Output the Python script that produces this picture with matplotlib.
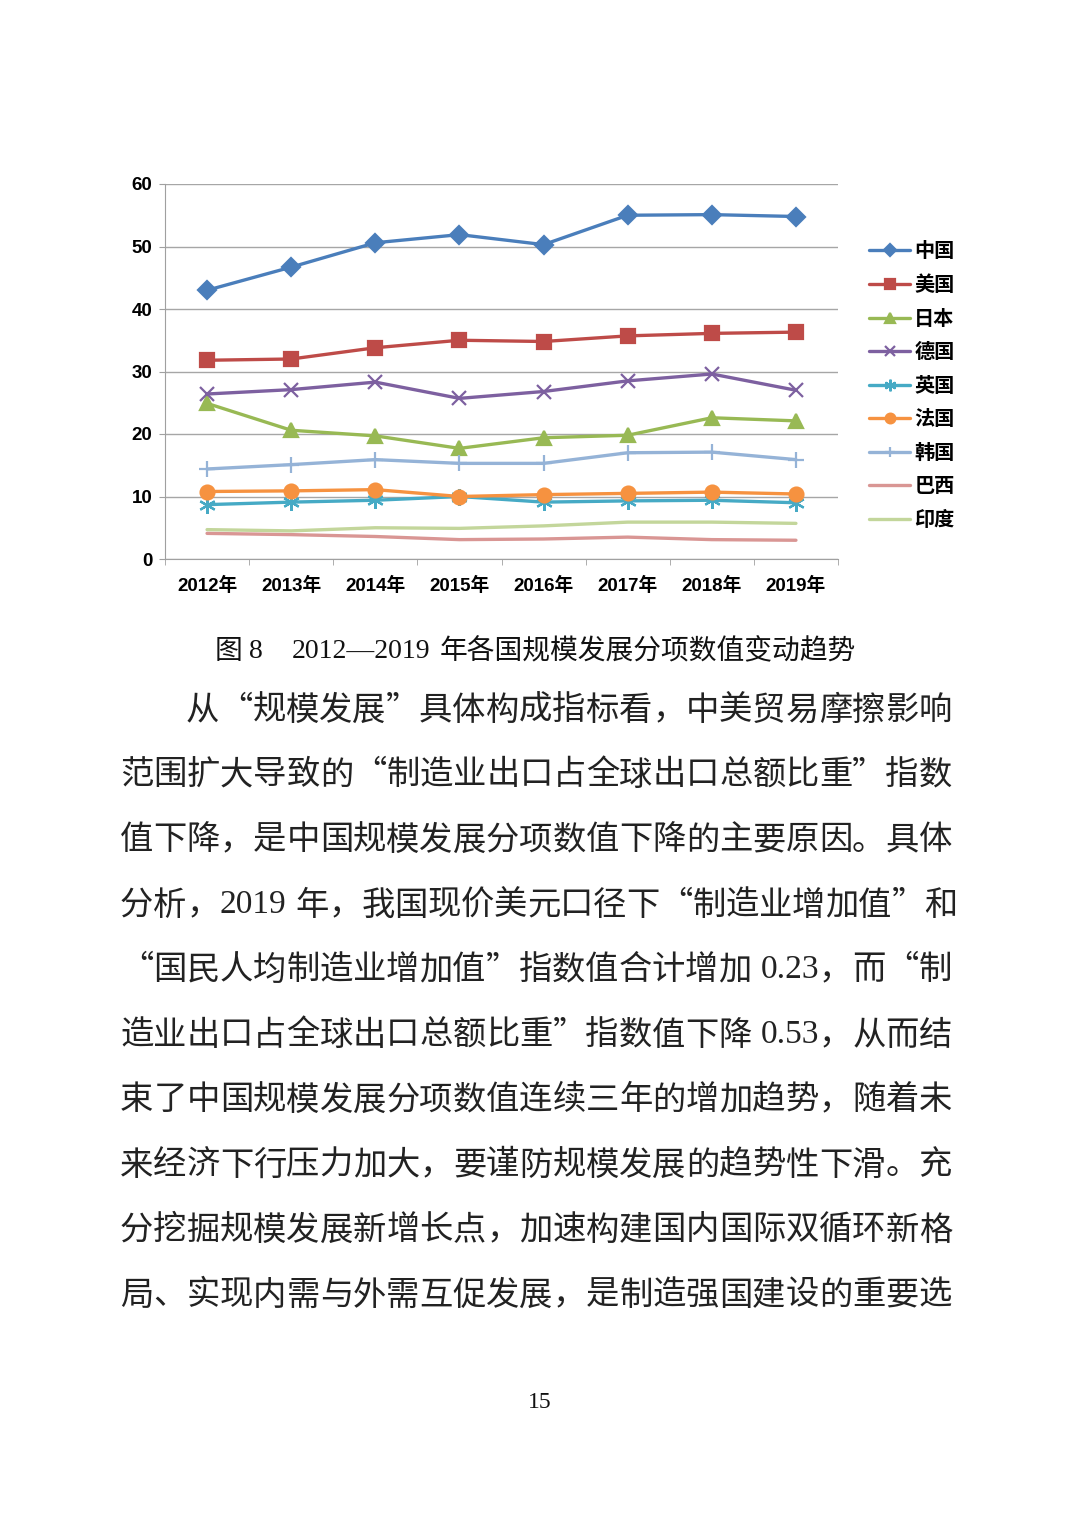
import matplotlib
matplotlib.use('Agg')
import matplotlib.pyplot as plt
import numpy as np

# data
years = ['2012年', '2013年', '2014年', '2015年', '2016年', '2017年', '2018年', '2019年']
countries = ['中国', '美国', '日本', '德国', '英国', '法国', '韩国', '巴西', '印度']
china = [43.0, 46.7, 50.6, 51.9, 50.3, 55.0, 55.1, 54.8]
usa = [31.8, 32.0, 33.8, 35.0, 34.8, 35.7, 36.1, 36.3]
japan = [24.9, 20.6, 19.7, 17.7, 19.4, 19.8, 22.6, 22.1]
germany = [26.4, 27.1, 28.3, 25.7, 26.8, 28.5, 29.6, 27.0]
uk = [8.7, 9.1, 9.4, 10.0, 9.1, 9.3, 9.4, 9.0]
france = [10.8, 10.9, 11.1, 10.0, 10.3, 10.5, 10.7, 10.4]
korea = [14.4, 15.1, 15.9, 15.3, 15.3, 17.0, 17.1, 15.9]
brazil = [4.1, 3.9, 3.6, 3.1, 3.2, 3.5, 3.1, 3.0]
india = [4.7, 4.5, 5.0, 4.9, 5.3, 5.9, 5.9, 5.7]
series = [china, usa, japan, germany, uk, france, korea, brazil, india]

caption = ['图', '8', '2012—2019', '年各国规模发展分项数值变动趋势']
body = [
    '从“规模发展”具体构成指标看，中美贸易摩擦影响',
    '范围扩大导致的“制造业出口占全球出口总额比重”指数',
    '值下降，是中国规模发展分项数值下降的主要原因。具体',
    '分析，2019 年，我国现价美元口径下“制造业增加值”和',
    '“国民人均制造业增加值”指数值合计增加 0.23，而“制',
    '造业出口占全球出口总额比重”指数值下降 0.53，从而结',
    '束了中国规模发展分项数值连续三年的增加趋势，随着未',
    '来经济下行压力加大，要谨防规模发展的趋势性下滑。充',
    '分挖掘规模发展新增长点，加速构建国内国际双循环新格',
    '局、实现内需与外需互促发展，是制造强国建设的重要选',
]
page_no = '15'

# styles
colors = ['#4A7EBB', '#BE4B48', '#98B954', '#7D60A0', '#46AAC5',
          '#F69240', '#95B3D7', '#D99694', '#C3D69B']
markers = ['D', 's', '^', 'x', (6, 2, 0), 'o', '+', 'None', 'None']
msizes = [9, 10, 10, 10, 12, 10, 11, 0, 0]

W, H = 1080, 1532
fig = plt.figure(figsize=(W / 100, H / 100), dpi=100)
fig.patch.set_facecolor('white')

CHART_FONT = ['Liberation Sans', 'Noto Sans CJK SC']

ax = fig.add_axes([165 / W, 1 - 559 / H, (838 - 165) / W, (559 - 184) / H])
xs = np.arange(len(years)) + 0.5
handles = []
for vals, name, c, m, ms in zip(series, countries, colors, markers, msizes):
    h, = ax.plot(xs, vals, color=c, lw=2.4, marker=m, markersize=ms,
                 markerfacecolor=c, markeredgecolor=c, markeredgewidth=1.6,
                 label=name, solid_capstyle='round')
    handles.append(h)

ax.set_xlim(0, len(years))
ax.set_ylim(0, 60)
ax.set_yticks(range(0, 61, 10))
ax.set_xticks(xs)
ax.set_xticklabels(years)
ax.set_xticks(np.arange(len(years) + 1), minor=True)
ax.tick_params(axis='x', which='major', length=0, pad=13)
ax.tick_params(axis='x', which='minor', length=4.5, color='#A0A0A0', direction='out')
ax.tick_params(axis='y', length=4, color='#A0A0A0', pad=5)
for lab in ax.get_xticklabels() + ax.get_yticklabels():
    lab.set_family(CHART_FONT)
    lab.set_fontweight('bold')
    lab.set_fontsize(13.5)
ax.yaxis.grid(True, color='#A6A6A6', lw=1)
ax.set_axisbelow(True)
for s in ['top', 'right']:
    ax.spines[s].set_visible(False)
for s in ['left', 'bottom']:
    ax.spines[s].set_color('#A0A0A0')

fig.legend(handles, countries, loc='upper left',
           bbox_to_anchor=(869 / W, 1 - 242 / H), frameon=False,
           borderaxespad=0, borderpad=0, handlelength=2.05, handletextpad=0.2,
           labelspacing=0.72, markerscale=0.7,
           prop={'family': CHART_FONT, 'weight': 'bold', 'size': 14.5})

# text below the chart
renderer = fig.canvas.get_renderer()
SPACE = 9  # px added where the source has a half-width space


def justify(line, y, x0, x1, size=24):
    # split into single CJK chars and latin runs, spread them over x0..x1
    toks = []
    run = ''
    for ch in line:
        if ord(ch) < 128 and ch != ' ':
            run += ch
        else:
            if run:
                toks.append(run)
                run = ''
            toks.append(None if ch == ' ' else ch)
    if run:
        toks.append(run)
    txts, widths = [], []
    for t in toks:
        if t is None:
            continue
        fam = 'Liberation Serif' if ord(t[0]) < 128 else 'Noto Sans CJK SC'
        tx = fig.text(0, 1 - y / H, t, family=fam, fontsize=size,
                      va='center', ha='left', color='#222222')
        txts.append(tx)
        widths.append(tx.get_window_extent(renderer).width)
    nspace = toks.count(None)
    gap = (x1 - x0 - sum(widths) - nspace * SPACE) / (len(txts) - 1)
    x = x0
    k = 0
    for t in toks:
        if t is None:
            x += SPACE
            continue
        txts[k].set_x(x / W)
        x += widths[k] + gap
        k += 1


cap_x = [215, 249, 292, 440]
for t, x in zip(caption, cap_x):
    if ord(t[0]) < 128:
        fig.text(x / W, 1 - 651 / H, t, family='Liberation Serif', fontsize=20,
                 va='center', ha='left', color='#111111')
    else:
        fig.text(x / W, 1 - 651 / H, t, family='Noto Sans CJK SC', fontsize=20,
                 va='center', ha='left', color='#111111')

line_y = 710
for i, line in enumerate(body):
    x0 = 186 if i == 0 else 120
    x1 = 958 if i == 3 else 952
    justify(line, line_y + 65 * i, x0, x1)

fig.text(540 / W, 1 - 1402 / H, page_no, family='Liberation Serif', fontsize=17,
         ha='center', va='center', color='#111111')

fig.savefig('out.png', dpi=100, facecolor='white')
